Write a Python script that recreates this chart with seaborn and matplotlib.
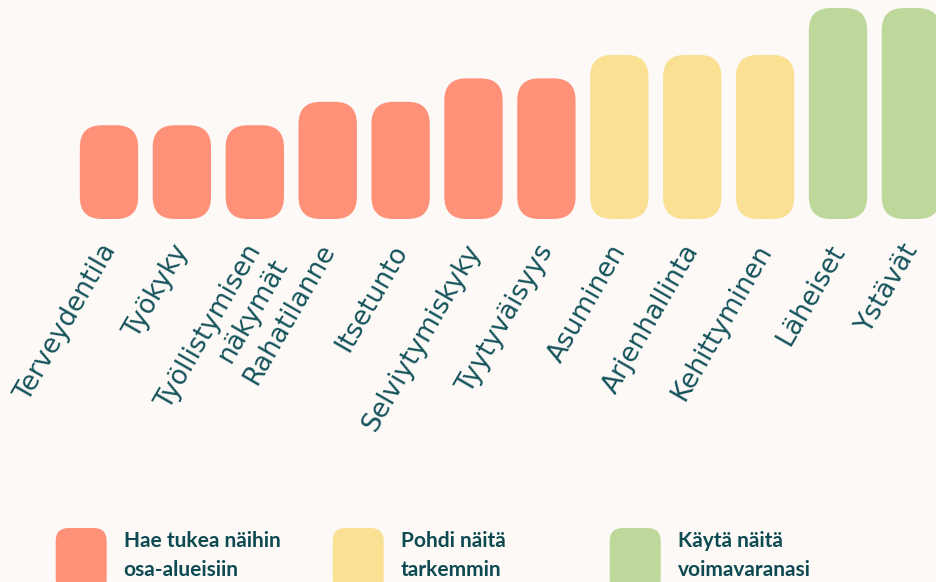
import matplotlib
matplotlib.use("Agg")
import matplotlib.pyplot as plt
from matplotlib.patches import FancyBboxPatch
from matplotlib.transforms import Affine2D, ScaledTranslation
import seaborn as sns
import pandas as pd

# --- data ---
areas = ["Terveydentila", "Työkyky", "Työllistymisen\nnäkymät", "Rahatilanne", "Itsetunto",
         "Selviytymiskyky", "Tyytyväisyys", "Asuminen", "Arjenhallinta", "Kehittyminen",
         "Läheiset", "Ystävät"]
scores = [4, 4, 4, 5, 5, 6, 6, 7, 7, 7, 9, 9]
groups = ["tuki", "tuki", "tuki", "tuki", "tuki", "tuki", "tuki",
          "pohdi", "pohdi", "pohdi", "voima", "voima"]
group_names = ["tuki", "pohdi", "voima"]
group_labels = ["Hae tukea näihin\nosa-alueisiin", "Pohdi näitä\ntarkemmin", "Käytä näitä\nvoimavaranasi"]
group_colors = ["#ff9179", "#fae093", "#bed89c"]

BG = "#fdf9f6"
TEXT = "#15545c"
W, H = 936, 582

df = pd.DataFrame({"area": areas, "score": scores, "group": groups})
palette = dict(zip(group_names, group_colors))

sns.set_style("white")
fig = plt.figure(figsize=(W / 100, H / 100), dpi=100, facecolor=BG)
# axes: full width, baseline at 219 px from top
ax = fig.add_axes([0, (H - 219) / H, 1, 219 / H])
ax.set_facecolor(BG)

sns.barplot(data=df, x="area", y="score", hue="group", palette=palette,
            dodge=False, width=0.8, saturation=1, legend=False, ax=ax)

ax.set_xlim(-1.495, 11.344)
ax.set_ylim(0, 219 / 23.44)

# swap the plain rectangles for rounded ones
p0 = ax.transData.transform((0, 0))
p1 = ax.transData.transform((1, 1))
xpx, ypx = p1[0] - p0[0], p1[1] - p0[1]
for p in list(ax.patches):
    h = p.get_height()
    if not h or h != h:
        p.remove()
        continue
    fc = p.get_facecolor()
    box = FancyBboxPatch((p.get_x(), p.get_y()), p.get_width(), h,
                         boxstyle=f"round,pad=0,rounding_size={22 / xpx}",
                         mutation_aspect=xpx / ypx, fc=fc, ec="none")
    p.remove()
    ax.add_patch(box)

for s in ax.spines.values():
    s.set_visible(False)
ax.set_yticks([])
ax.set_xlabel("")
ax.set_ylabel("")
ax.tick_params(axis="x", length=0, pad=15)
shift = ScaledTranslation(-0.10, 0, fig.dpi_scale_trans)
for t in ax.get_xticklabels():
    t.set_rotation(60)
    t.set_ha("right")
    t.set_va("top")
    t.set_rotation_mode("anchor")
    t.set_fontsize(19)
    t.set_color(TEXT)
    t.set_family("DejaVu Sans")
    t.set_transform(t.get_transform() + shift)

# --- legend, in pixel units (y from bottom) ---
pix = Affine2D().scale(1 / W, 1 / H) + fig.transFigure
for i, (lab, col) in enumerate(zip(group_labels, group_colors)):
    x = 55.7 + 277 * i
    fig.patches.append(FancyBboxPatch((x, -10), 51, 64,
                                      boxstyle="round,pad=0,rounding_size=13",
                                      fc=col, ec="none", transform=pix, figure=fig))
    for j, line in enumerate(lab.split("\n")):
        fig.text(x + 68, 35 - 29 * j, line, transform=pix, fontsize=15,
                 fontweight="bold", family=["Lato", "DejaVu Sans"], color="#0e4a52",
                 ha="left", va="baseline")

fig.savefig("out.png", dpi=100, facecolor=BG)
